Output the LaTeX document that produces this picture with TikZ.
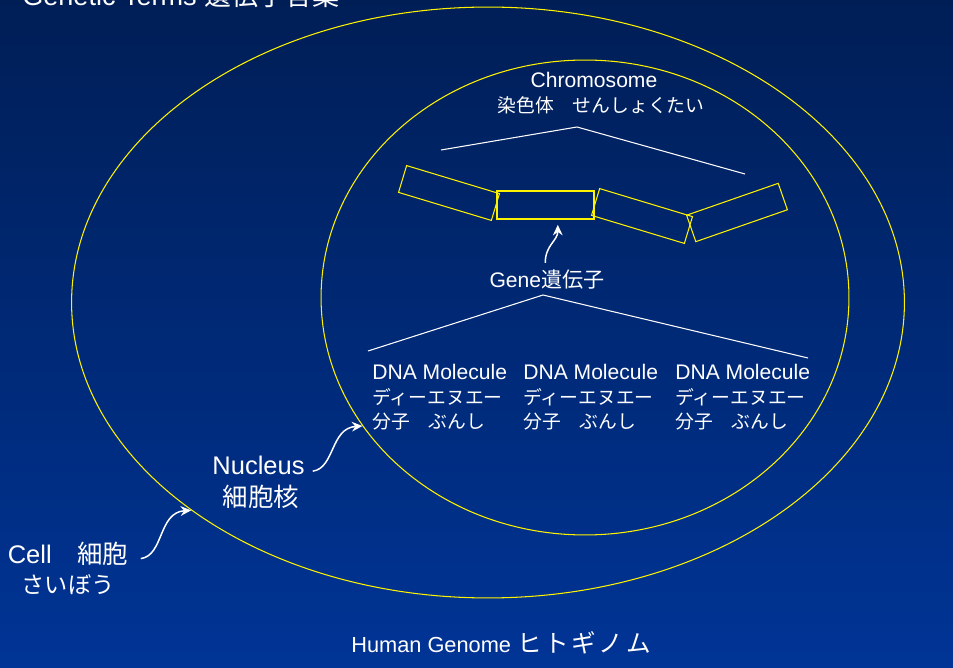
\documentclass[tikz,border=0pt]{standalone}
\usepackage{fontspec}
\setmainfont{Liberation Sans}
\newfontfamily\jp{Noto Sans CJK JP}
\usetikzlibrary{arrows.meta,shapes.geometric}

\definecolor{slidetop}{RGB}{0,30,86}
\definecolor{slidebottom}{RGB}{0,52,150}

% smaller kana inside the 12pt texts
\newcommand{\jpsmall}{\jp\fontsize{10.7}{14}\selectfont}

\tikzset{
    ring/.style={ellipse, draw=yellow, line width=0.6pt, inner sep=0pt},
    chrom/.style={draw=yellow, line width=0.6pt, minimum width=1.94cm, minimum height=0.56cm, inner sep=0pt},
    bracket/.style={draw=white, line width=0.6pt},
    pointer/.style={draw=white, line width=0.85pt, -{Stealth[length=6pt,width=5.5pt]}},
    termtext/.style={text=white, inner sep=0pt, font=\fontsize{12}{14}\selectfont},
    bigterm/.style={text=white, inner sep=0pt, font=\fontsize{14.5}{17.6}\selectfont},
    titletext/.style={text=white, inner sep=0pt, font=\fontsize{15.4}{18}\selectfont}
}

\begin{document}
\begin{tikzpicture}[x=0.02cm, y=-0.02cm]
    \fill[top color=slidetop, bottom color=slidebottom] (0,0) rectangle (953,668);
    \useasboundingbox (0,0) rectangle (953,668);
    \node[titletext, anchor=base west] (title) at (22,6) {Genetic Terms {\jp 遺伝子言葉}};

    % cell and nucleus
    \node[ring, minimum width=16.66cm, minimum height=11.82cm] (cell) at (488,302.5) {};
    \node[ring, minimum width=10.56cm, minimum height=9.5cm] (nucleus) at (585,297.5) {};

    % chromosome
    \node[anchor=base, termtext] (chromname) at (594,88) {Chromosome};
    \node[anchor=base, termtext] (chromjp) at (601,113) {\jpsmall 染色体　せんしょくたい};
    \draw[bracket] (441,150) -- (577,127) -- (745,174);
    \node[chrom, rotate=-16.8] (c1) at (449,193) {};
    \node[chrom] (c2) at (545.5,205) {};
    \node[chrom, rotate=-16.8] (c3) at (642,216) {};
    \node[chrom, rotate=19.2] (c4) at (737,212.5) {};

    % gene
    \node[anchor=base, termtext] (gene) at (547,288) {Gene{\jp 遺伝子}};
    \draw[pointer] ([xshift=-1pt,yshift=4pt]gene.north) .. controls +(0,-18) and +(0,16) .. ([xshift=7pt,yshift=-3pt]c2.south);
    \draw[bracket] (368,351) -- (543,295) -- (808,358);

    \node[anchor=north west, align=left, termtext] (dna1) at (372,364) {DNA Molecule\\{\jpsmall ディーエヌエー}\\{\jpsmall 分子　ぶんし}};
    \node[anchor=north west, align=left, termtext] (dna2) at (523,364) {DNA Molecule\\{\jpsmall ディーエヌエー}\\{\jpsmall 分子　ぶんし}};
    \node[anchor=north west, align=left, termtext] (dna3) at (675,364) {DNA Molecule\\{\jpsmall ディーエヌエー}\\{\jpsmall 分子　ぶんし}};

    % labels with arrows
    \node[anchor=base, bigterm] (nucleusname) at (258.5,475) {Nucleus};
    \node[anchor=base, bigterm] (nucleusjp) at (261,506) {\jp 細胞核};
    \draw[pointer] ([xshift=4.5pt,yshift=-3pt]nucleusname.east) .. controls +(22,-3) and +(-32,2) .. (nucleus.210);

    \node[anchor=base, bigterm] (cellname) at (68,563) {Cell{\jp 　細胞}};
    \node[anchor=base, bigterm] (celljp) at (68,593) {\jp\fontsize{13.2}{16}\selectfont さいぼう};
    \draw[pointer] ([xshift=7pt,yshift=-3pt]cellname.east) .. controls +(23,-3) and +(-33,2) .. (cell.215);

    \node[anchor=base, termtext, font=\fontsize{12.4}{14}\selectfont] (genome) at (501,652) {Human Genome {\jp\fontsize{14}{14}\selectfont ヒ\kern1.5pt ト\kern1.5pt ギ\kern1.5pt ノ\kern1.5pt ム}};
\end{tikzpicture}
\end{document}
